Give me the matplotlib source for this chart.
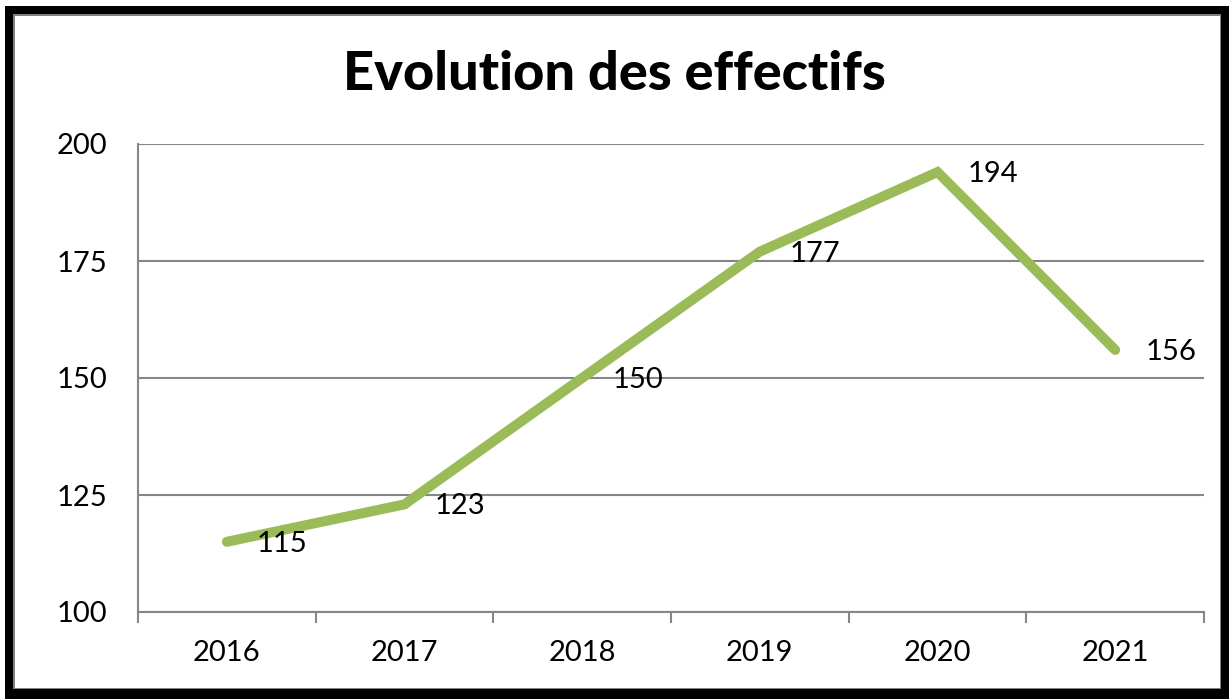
import matplotlib
matplotlib.use("Agg")
import matplotlib.pyplot as plt
from matplotlib.patches import Rectangle

years = ["2016", "2017", "2018", "2019", "2020", "2021"]
effectifs = [115, 123, 150, 177, 194, 156]
yticks = [100, 125, 150, 175, 200]
title = "Evolution des effectifs"

W, H = 1229, 699
plt.rcParams['font.family'] = ['Lato', 'DejaVu Sans']
fig = plt.figure(figsize=(W / 100, H / 100), dpi=100)

# outer border (black frame with thin gray inner line)
def frect(x0, y0, x1, y1, **kw):
    fig.patches.append(Rectangle((x0 / W, 1 - y1 / H), (x1 - x0) / W, (y1 - y0) / H,
                                 transform=fig.transFigure, figure=fig, **kw))

frect(5, 6, 1229, 699, facecolor="black", edgecolor="none", zorder=-3)
frect(13, 14, 1221, 689, facecolor="#808080", edgecolor="none", zorder=-2)
frect(15, 16, 1220, 688, facecolor="white", edgecolor="none", zorder=-1)

ax = fig.add_axes([138 / W, 1 - 612 / H, (1204 - 138) / W, (612 - 144) / H])
ax.set_facecolor("none")
x = list(range(len(years)))
ax.plot(x, effectifs, color="#9BBB59", lw=7.2, solid_capstyle="round",
        solid_joinstyle="miter", zorder=3)
for xi, v in zip(x, effectifs):
    ax.annotate(str(v), (xi, v), xytext=(30, -2), textcoords="offset pixels",
                ha="left", va="center", fontsize=21, color="black", zorder=4)

ax.set_xlim(-0.5, len(years) - 0.5)
ax.set_ylim(100, 200)
ax.set_yticks(yticks)
ax.set_yticklabels([str(t) for t in yticks], fontsize=21)
ax.yaxis.grid(True, color="#868686", lw=1.5)
ax.set_axisbelow(True)
ax.tick_params(axis="y", length=0, pad=22)
ax.set_xticks(x)
ax.set_xticklabels(years, fontsize=21)
ax.tick_params(axis="x", length=0, pad=20)
ax.set_xticks([i - 0.5 for i in range(len(years) + 1)], minor=True)
ax.tick_params(axis="x", which="minor", length=8, width=1.5, color="#868686")
for s in ["top", "right"]:
    ax.spines[s].set_visible(False)
for s in ["left", "bottom"]:
    ax.spines[s].set_color("#868686")
    ax.spines[s].set_linewidth(1.5)

fig.text(0.5, 1 - 75 / H, title, ha="center", va="center", fontsize=39,
         fontweight="black", color="black")

fig.savefig("out.png", dpi=100)
